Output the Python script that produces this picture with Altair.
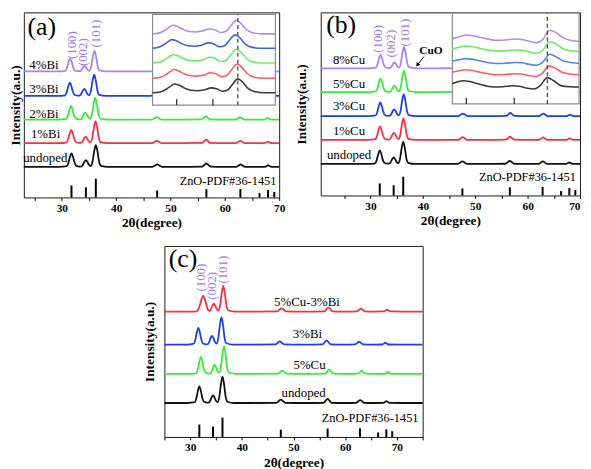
import altair as alt
import pandas as pd

FONT = "Liberation Serif"

# ---------------- shared 2-theta grid for the main patterns ----------------
TT = [19, 25, 29.5, 30.9, 31.2, 31.5, 31.77, 32.05, 32.35, 32.7, 33.3,
      33.65, 33.9, 34.15, 34.42, 34.7, 34.95, 35.3,
      35.65, 35.95, 36.25, 36.55, 36.85, 37.2, 38.5, 42,
      46.7, 47.1, 47.55, 48.0, 48.4, 52,
      55.8, 56.2, 56.6, 57.0, 57.4, 60,
      62.1, 62.5, 62.9, 63.3, 63.7, 65.5,
      67.4, 67.7, 67.95, 68.25, 68.6, 71, 76]

# ZnO reference pattern (PDF#36-1451)
STICK_T = [31.77, 34.42, 36.25, 47.54, 56.60, 62.86, 66.38, 67.96, 69.10]
STICK_H = [12.5, 10.5, 19.5, 7.3, 8.5, 8.7, 4.5, 7.7, 5.7]

# ---------------- panel (a) ----------------
A_NAMES = ["undoped", "1%Bi", "2%Bi", "3%Bi", "4%Bi"]
A_BASE = [31.7, 56.3, 80.7, 105.3, 130.7]
A_SHIFT = [0, -0.05, -0.1, -0.3, -0.25]
A_UNDOPED = [0,0,0, 0.7,4.2,10.5,14,10.5,4.2,1.0,0.3, 0.5,2.5,5.3,7,5.3,2.5,0.8, 5.6,16.2,22.5,16.2,5.6,1.1,0, 0,
             0.1,1.3,2.5,1.3,0.1, 0, 0.2,1.8,3.5,1.8,0.2, 0, 0.1,1.3,2.5,1.3,0.1, 0, 0.1,0.9,1.8,0.9,0.1, 0,0]
A_1BI = [0,0,0, 0.7,4.1,10.3,13.7,10.3,4.1,1.0,0.3, 0.5,2.3,5.0,6.7,5.0,2.3,0.8, 5.7,16.3,22.7,16.3,5.7,1.1,0, 0,
         0.1,1.3,2.5,1.3,0.1, 0, 0.2,1.8,3.6,1.8,0.2, 0, 0.1,1.3,2.4,1.3,0.1, 0, 0.1,0.9,1.7,0.9,0.1, 0,0]
A_2BI = [0,0,0, 0.7,4.3,10.7,14.3,10.7,4.3,1.0,0.3, 0.5,2.6,5.5,7.3,5.5,2.6,0.8, 5.7,16.3,22.7,16.3,5.7,1.1,0, 0,
         0.1,1.3,2.6,1.3,0.1, 0, 0.2,1.8,3.5,1.8,0.2, 0, 0.1,1.3,2.5,1.3,0.1, 0, 0.1,0.9,1.8,0.9,0.1, 0,0]
A_3BI = [0,0,0, 0.7,4.1,10.3,13.7,10.3,4.1,1.0,0.3, 0.5,2.6,5.5,7.3,5.5,2.6,0.8, 5.5,15.8,22,15.8,5.5,1.1,0, 0,
         0.1,1.2,2.4,1.2,0.1, 0, 0.2,1.7,3.4,1.7,0.2, 0, 0.1,1.2,2.4,1.2,0.1, 0, 0.1,0.9,1.7,0.9,0.1, 0,0]
A_4BI = [0,0,0, 0.7,4.0,10.0,13.3,10.0,4.0,0.9,0.3, 0.4,2.1,4.5,6,4.5,2.1,0.7, 5.3,15.3,21.3,15.3,5.3,1.1,0, 0,
         0.1,1.2,2.4,1.2,0.1, 0, 0.2,1.7,3.4,1.7,0.2, 0, 0.1,1.2,2.4,1.2,0.1, 0, 0.1,0.9,1.7,0.9,0.1, 0,0]
A_LABEL_T = [26.95, 27.0, 26.7, 26.7, 26.7]
A_LABEL_V = [41, 66, 87, 112, 137]

# inset (a)
IA_GRID = [30.0, 30.5, 31.0, 31.3, 31.6, 31.9, 32.3, 32.8, 33.3, 33.8, 34.3, 34.7,
           35.1, 35.5, 35.85, 36.25, 36.6, 37.0, 37.5, 38.2, 39.0]
IA_BASE = [13, 28, 43.7, 59, 74]
IA_SHIFT = [0, -0.05, -0.1, -0.2, -0.12]
IA_UNDOPED = [0, 0.5, 3.5, 6.5, 9, 8, 5, 2.5, 2, 3, 5, 4, 1.5, 2.8, 8.5, 14.3, 11, 4.5, 1, 0, 0]
IA_1BI = [0, 0.5, 3.5, 6.5, 9, 8, 5, 2.6, 2.2, 3.3, 5.7, 4.5, 1.6, 3, 9, 14.7, 11.3, 4.6, 1, 0, 0]
IA_2BI = [0, 0.5, 3.4, 6.3, 8.7, 7.8, 5, 2.7, 2.3, 3.5, 6, 4.7, 1.7, 3, 8.8, 14.3, 11, 4.5, 1, 0, 0]
IA_3BI = [0, 0.5, 3.5, 6.5, 9, 8, 5, 2.6, 2.2, 3.3, 5.7, 4.5, 1.6, 3, 8.7, 14, 10.8, 4.4, 1, 0, 0]
IA_4BI = [0, 0.5, 3.5, 6.5, 9, 8, 5, 2.5, 2, 3.1, 5, 4, 1.5, 2.8, 8.5, 14, 10.8, 4.4, 1, 0, 0]

# ---------------- panel (b) ----------------
B_NAMES = ["undoped", "1%Cu", "3%Cu", "5%Cu", "8%Cu"]
B_BASE = [32.7, 57.7, 82.3, 107.3, 132]
B_SHIFT = [0, 0.05, 0.1, 0.15, 0.15]
B_UNDOPED = [0,0,0, 0.7,4.2,10.5,14,10.5,4.2,1.0,0.3, 0.5,2.3,5.0,6.7,5.0,2.3,0.8, 5.8,16.6,23,16.6,5.8,1.2,0, 0,
             0.1,1.4,2.7,1.4,0.1, 0, 0.2,1.7,3.3,1.7,0.2, 0, 0.1,1.4,2.7,1.4,0.1, 0, 0.1,0.9,1.7,0.9,0.1, 0,0]
B_1CU = [0,0,0, 0.7,4.2,10.5,14,10.5,4.2,1.0,0.3, 0.5,2.6,5.5,7.3,5.5,2.6,0.8, 5.6,16.1,22.3,16.1,5.6,1.1,0, 0,
         0.1,1.4,2.8,1.4,0.1, 0, 0.2,1.7,3.4,1.7,0.2, 0, 0.1,1.3,2.6,1.3,0.1, 0, 0.1,0.9,1.7,0.9,0.1, 0,0]
B_3CU = [0,0,0, 0.7,4.3,10.7,14.3,10.7,4.3,1.0,0.3, 0.5,2.5,5.3,7,5.3,2.5,0.8, 5.7,16.3,22.7,16.3,5.7,1.1,0, 0,
         0.1,1.4,2.7,1.4,0.1, 0, 0.2,1.7,3.3,1.7,0.2, 0, 0.1,1.4,2.7,1.4,0.1, 0, 0.1,0.9,1.7,0.9,0.1, 0,0]
B_5CU = [0,0,0, 0.7,4.3,10.7,14.3,10.7,4.3,1.0,0.3, 0.5,2.3,5.0,6.7,5.0,2.3,0.8, 5.5,15.8,22,15.8,5.5,1.1,0, 0,
         0.1,1.3,2.6,1.3,0.1, 0, 0.2,1.6,3.2,1.6,0.2, 0, 0.1,1.3,2.6,1.3,0.1, 0, 0.1,0.8,1.6,0.8,0.1, 0,0]
B_8CU = [0,0,0, 0.7,4.2,10.5,14,10.5,4.2,1.0,0.3, 0.4,2.1,4.5,6,4.5,2.1,0.7, 5.6,16.1,22.3,16.1,5.6,1.1,0, 0,
         0.1,1.3,2.6,1.3,0.1, 0, 0.2,1.6,3.2,1.6,0.2, 0, 0.1,1.3,2.6,1.3,0.1, 0, 0.1,0.8,1.6,0.8,0.1, 0,0]
B_LABEL_T = [25.9, 25.9, 25.9, 25.9, 25.9]
B_LABEL_V = [41.6, 67.3, 92.3, 116, 140.6]

# inset (b)
IB_GRID = [31.0, 31.3, 31.6, 31.9, 32.3, 32.8, 33.3, 33.8, 34.3, 34.7, 35.1, 35.5,
           35.85, 36.25, 36.6, 37.0, 37.5, 38.0]
IB_SHIFT = [0, 0.1, 0.13, 0.13, 0.13]
IB_UNDOPED = [21, 23, 24, 23.5, 21.5, 19, 17.5, 17.8, 18.8, 18.3, 16.5, 15.5, 19, 27.3, 24, 19, 17.8, 17.5]
IB_1CU = [33, 34.5, 35.5, 35, 33.5, 31.5, 30.3, 30.5, 31.3, 31, 29.5, 28.5, 31.5, 39.5, 37, 32.5, 30.8, 30.5]
IB_3CU = [44.5, 46, 47, 46.5, 45, 43, 42, 42.2, 43, 42.7, 41.2, 40, 43, 51.5, 49, 44.5, 42.8, 42.2]
IB_5CU = [57, 59, 60, 59.5, 58, 56, 54.8, 55, 56, 55.6, 54, 52.5, 55.5, 64.5, 62, 57, 55, 54.5]
IB_8CU = [67.5, 70, 71.5, 71, 69.5, 67.5, 66, 66.3, 67.3, 66.8, 65, 63.5, 66.5, 76.5, 74, 68.5, 65.5, 65]

# ---------------- panel (c) ----------------
C_NAMES = ["undoped", "5%Cu", "3%Bi", "5%Cu-3%Bi"]
C_BASE = [34.3, 63.7, 93.3, 126.7]
C_SHIFT = [0, 0.3, -0.2, 0.15]
C_UNDOPED = [0,0,0, 0.8,5.0,12.5,16.7,12.5,5.0,1.2,0.3, 0.5,2.7,5.8,7.7,5.8,2.7,0.9, 6.7,19.2,26.7,19.2,6.7,1.3,0, 0,
             0.2,1.7,3.3,1.7,0.2, 0, 0.2,2.2,4.3,2.2,0.2, 0, 0.2,1.5,3,1.5,0.2, 0, 0.1,1,2,1,0.1, 0,0]
C_5CU = [0,0,0, 0.9,5.2,13.0,17.3,13.0,5.2,1.2,0.3, 0.6,3.2,6.8,9,6.8,3.2,1.0, 7.0,20.2,28,20.2,7.0,1.4,0, 0,
         0.2,1.7,3.3,1.7,0.2, 0, 0.2,2.2,4.3,2.2,0.2, 0, 0.2,1.5,3,1.5,0.2, 0, 0.1,1,2,1,0.1, 0,0]
C_3BI = [0,0,0, 0.9,5.1,12.8,17,12.8,5.1,1.2,0.3, 0.6,3.0,6.5,8.7,6.5,3.0,1.0, 6.9,19.9,27.7,19.9,6.9,1.4,0, 0,
         0.2,1.7,3.3,1.7,0.2, 0, 0.2,2.2,4.3,2.2,0.2, 0, 0.2,1.5,3,1.5,0.2, 0, 0.1,1,2,1,0.1, 0,0]
C_5CU3BI = [0,0,0, 0,0.8,3.2,7.2,12.8,16,12,1.6, 0.6,2.8,6.0,8,6.0,2.8,0.9, 6.5,18.7,26,18.7,6.5,1.3,0, 0,
            0.2,1.7,3.3,1.7,0.2, 0, 0.2,2.2,4.3,2.2,0.2, 0, 0.2,1.5,3,1.5,0.2, 0, 0.1,1,2,1,0.1, 0,0]
C_LABEL_T = [51.95, 53.1, 52.7, 52.6]
C_LABEL_V = [44.7, 72.7, 103.7, 136.7]

PEAK_NAMES = ["(100)", "(002)", "(101)"]
A_PEAK_T, A_PEAK_V = [31.95, 33.9, 36.3], [158, 150.7, 170]
B_PEAK_T, B_PEAK_V = [31.4, 34.0, 36.5], [162.5, 157.5, 169]
C_PEAK_T, C_PEAK_V = [32.1, 34.3, 36.45], [161, 152.7, 169]

# ---------------- styles / layout ----------------
MAIN_COLORS = {"k": "#111111", "r": "#ff2d3f", "g": "#33ee33", "b": "#1a3cff", "p": "#a384f5"}
INSET_COLORS = {"k": "#3a3a3a", "r": "#ff5a66", "g": "#66ee66", "b": "#3a5fe0", "p": "#a98df2"}
PEAK_COLOR = "#9b7cf0"

for lst in [A_UNDOPED, A_1BI, A_2BI, A_3BI, A_4BI, B_UNDOPED, B_1CU, B_3CU, B_5CU, B_8CU,
            C_UNDOPED, C_5CU, C_3BI, C_5CU3BI]:
    assert len(lst) == len(TT)


def build_lines(grid, names, bases, shifts, profiles, colors):
    rows = []
    n = len(grid)
    for name, base, sh, prof, col in zip(names, bases, shifts, profiles, colors):
        for i, (t, h) in enumerate(zip(grid, prof)):
            tt = t if i in (0, n - 1) else t + sh
            rows.append({"series": name, "t": tt, "v": base + h, "c": col})
    return pd.DataFrame(rows)


def sx(dom):
    return alt.Scale(domain=dom, nice=False, zero=False)


def x_axis(dom, flush):
    vals = [v for v in range(25, 80, 5) if dom[0] <= v <= dom[1]]
    return alt.Axis(title="2θ(degree)", values=vals,
                    labelExpr="datum.value % 10 === 0 ? datum.label : ''",
                    labelFlush=flush, tickSize=3, tickColor="black", domain=False,
                    grid=False, labelFont=FONT, labelFontSize=11.5, labelFontWeight="bold",
                    labelColor="black", labelPadding=2, titleFont=FONT, titleFontSize=13.5,
                    titleFontWeight="bold", titleColor="black", titlePadding=2)


def y_axis(pad):
    return alt.Axis(title="Intensity(a.u.)", labels=False, ticks=False, domain=False,
                    grid=False, titleFont=FONT, titleFontSize=13.5, titleFontWeight="bold",
                    titleColor="black", titlePadding=pad)


def main_layers(lines_df, xdom, ydom, ypad, flush, lab_names, lab_t, lab_v,
                peak_t, peak_v, letter, letter_t, letter_v, pdf_t, pdf_v):
    xs, ys = sx(xdom), sx(ydom)
    xa, ya = x_axis(xdom, flush), y_axis(ypad)

    def X(f):
        return alt.X(f, scale=xs, axis=xa)

    def Y(f):
        return alt.Y(f, scale=ys, axis=ya)

    lines = alt.Chart(lines_df).mark_line(strokeWidth=1.8, interpolate="monotone", clip=True).encode(
        x=X("t:Q"), y=Y("v:Q"), color=alt.Color("c:N", scale=None), detail="series:N")
    sticks_df = pd.DataFrame({"t": STICK_T, "v0": [0] * len(STICK_T), "h": STICK_H})
    sticks = alt.Chart(sticks_df).mark_rule(strokeWidth=2, color="black").encode(
        x=X("t:Q"), y=Y("v0:Q"), y2="h:Q")
    lab_df = pd.DataFrame({"t": lab_t, "v": lab_v, "label": lab_names})
    labs = alt.Chart(lab_df).mark_text(font=FONT, fontSize=13, color="black",
                                       align="center", baseline="middle").encode(
        x=X("t:Q"), y=Y("v:Q"), text="label:N")
    pk_df = pd.DataFrame({"t": peak_t, "v": peak_v, "label": PEAK_NAMES})
    pks = alt.Chart(pk_df).mark_text(font=FONT, fontSize=13, color=PEAK_COLOR, angle=270,
                                     align="center", baseline="middle").encode(
        x=X("t:Q"), y=Y("v:Q"), text="label:N")
    let_df = pd.DataFrame({"t": [letter_t], "v": [letter_v], "label": [letter]})
    let = alt.Chart(let_df).mark_text(font=FONT, fontSize=26, color="black",
                                      align="center", baseline="middle").encode(
        x=X("t:Q"), y=Y("v:Q"), text="label:N")
    pdf_df = pd.DataFrame({"t": [pdf_t], "v": [pdf_v], "label": ["ZnO-PDF#36-1451"]})
    pdf = alt.Chart(pdf_df).mark_text(font=FONT, fontSize=12.5, color="black",
                                      align="right", baseline="middle").encode(
        x=X("t:Q"), y=Y("v:Q"), text="label:N")
    return [lines, sticks, labs, pks, let, pdf], X, Y


def inset_layers(lines_df, idom, iheight, box, xdom, ydom, W, H, tick_t, dash_t):
    # box = (t0, t1, v0, v1) in main-panel data units
    def px(t):
        return (t - xdom[0]) / (xdom[1] - xdom[0]) * W

    def py(v):
        return H - (v - ydom[0]) / (ydom[1] - ydom[0]) * H

    ixs = alt.Scale(domain=idom, range=[px(box[0]), px(box[1])], nice=False, zero=False)
    iys = alt.Scale(domain=[0, iheight], range=[py(box[2]), py(box[3])], nice=False, zero=False)
    rect_df = pd.DataFrame({"a": [idom[0]], "b": [idom[1]], "lo": [0], "hi": [iheight]})
    rect = alt.Chart(rect_df).mark_rect(fill="white", stroke="#8c8c8c", strokeWidth=1.2).encode(
        x=alt.X("a:Q", scale=ixs, axis=None), x2="b:Q",
        y=alt.Y("lo:Q", scale=iys, axis=None), y2="hi:Q")
    ln = alt.Chart(lines_df).mark_line(strokeWidth=1.6, interpolate="monotone").encode(
        x=alt.X("t:Q", scale=ixs, axis=None), y=alt.Y("v:Q", scale=iys, axis=None),
        color=alt.Color("c:N", scale=None), detail="series:N")
    tk_df = pd.DataFrame({"t": tick_t, "lo": [0] * len(tick_t), "hi": [6.5] * len(tick_t)})
    tk = alt.Chart(tk_df).mark_rule(strokeWidth=1.3, color="#333333").encode(
        x=alt.X("t:Q", scale=ixs, axis=None), y=alt.Y("lo:Q", scale=iys, axis=None), y2="hi:Q")
    ds_df = pd.DataFrame({"t": [dash_t], "lo": [0], "hi": [iheight]})
    ds = alt.Chart(ds_df).mark_rule(strokeWidth=1.3, color="#4a4a4a", strokeDash=[4, 3]).encode(
        x=alt.X("t:Q", scale=ixs, axis=None), y=alt.Y("lo:Q", scale=iys, axis=None), y2="hi:Q")
    return [rect, ln, tk, ds]


MC = MAIN_COLORS
IC = INSET_COLORS

# ---- panel (a)
WA, HA = 258, 187
XA, YA = [23, 70], [0, 192]
a_df = build_lines(TT, A_NAMES, A_BASE, A_SHIFT, [A_UNDOPED, A_1BI, A_2BI, A_3BI, A_4BI],
                   [MC["k"], MC["r"], MC["g"], MC["b"], MC["p"]])
ia_df = build_lines(IA_GRID, A_NAMES, IA_BASE, IA_SHIFT, [IA_UNDOPED, IA_1BI, IA_2BI, IA_3BI, IA_4BI],
                    [IC["k"], IC["r"], IC["g"], IC["b"], IC["p"]])
ma, _, _ = main_layers(a_df, XA, YA, 1, False, A_NAMES, A_LABEL_T, A_LABEL_V,
                       A_PEAK_T, A_PEAK_V, "(a)", 26.3, 176.5, 69.5, 17)
ina = inset_layers(ia_df, [30, 39], 94.3, (46.7, 69.3, 95.7, 190), XA, YA, WA, HA, [31.77, 34.42], 36.25)
panel_a = alt.layer(alt.layer(*ma), alt.layer(*ina)).resolve_scale(
    x="independent", y="independent").properties(width=WA, height=HA)

# ---- panel (b)
WB, HB = 262, 185
XB, YB = [20.5, 70], [0, 190]
b_df = build_lines(TT, B_NAMES, B_BASE, B_SHIFT, [B_UNDOPED, B_1CU, B_3CU, B_5CU, B_8CU],
                   [MC["k"], MC["r"], MC["b"], MC["g"], MC["p"]])
ib_df = build_lines(IB_GRID, B_NAMES, [0] * 5, IB_SHIFT, [IB_UNDOPED, IB_1CU, IB_3CU, IB_5CU, IB_8CU],
                    [IC["k"], IC["r"], "#5585e6", IC["g"], IC["p"]])
mb, XBf, YBf = main_layers(b_df, XB, YB, 12, True, B_NAMES, B_LABEL_T, B_LABEL_V,
                           B_PEAK_T, B_PEAK_V, "(b)", 24.4, 177.3, 69.2, 19.3)
cuo_txt = alt.Chart(pd.DataFrame({"t": [41.55], "v": [150], "label": ["CuO"]})).mark_text(
    font=FONT, fontSize=11.5, fontWeight="bold", color="black", align="center", baseline="middle").encode(
    x=XBf("t:Q"), y=YBf("v:Q"), text="label:N")
cuo_arrow = alt.Chart(pd.DataFrame({"t": [40.2], "v": [144], "t2": [38.95], "v2": [135.5]})).mark_rule(
    strokeWidth=1, color="black").encode(
    x=XBf("t:Q"), y=YBf("v:Q"), x2="t2:Q", y2="v2:Q")
cuo_head = alt.Chart(pd.DataFrame({"t": [38.95], "v": [135.5]})).mark_point(
    shape="triangle-up", filled=True, size=22, angle=218, color="black", opacity=1).encode(
    x=XBf("t:Q"), y=YBf("v:Q"))
inb = inset_layers(ib_df, [31, 38], 94.3, (45.63, 69.81, 95, 189.3), XB, YB, WB, HB, [31.77, 34.42], 36.25)
panel_b = alt.layer(alt.layer(*mb, cuo_txt, cuo_arrow, cuo_head), alt.layer(*inb)).resolve_scale(
    x="independent", y="independent").properties(width=WB, height=HB)

# ---- panel (c)
WC, HC = 261, 193
XC, YC = [25, 75], [0, 193]
c_df = build_lines(TT, C_NAMES, C_BASE, C_SHIFT, [C_UNDOPED, C_5CU, C_3BI, C_5CU3BI],
                   [MC["k"], MC["g"], MC["b"], MC["r"]])
mc, _, _ = main_layers(c_df, XC, YC, 8, False, C_NAMES, C_LABEL_T, C_LABEL_V,
                       C_PEAK_T, C_PEAK_V, "(c)", 28.6, 179.5, 74.2, 19.3)
panel_c = alt.layer(*mc).properties(width=WC, height=HC)

spacer = alt.Chart(pd.DataFrame({"z": [0]})).mark_point(opacity=0).encode(
    x=alt.X("z:Q", axis=None), y=alt.Y("z:Q", axis=None)).properties(
    width=119, height=10, view=alt.ViewBackground(strokeOpacity=0))

top = alt.hconcat(panel_a, panel_b, spacing=8)
bottom = alt.hconcat(spacer, panel_c, spacing=0)
chart = alt.vconcat(top, bottom, spacing=15).properties(
    padding=0, background="white").configure_view(
    stroke="#1a1a1a", strokeWidth=1).configure_axis(
    labelFont=FONT, titleFont=FONT, labelFontWeight="bold", titleFontWeight="bold").configure_text(font=FONT)

chart.save("out.html", embed_options={"renderer": "svg", "actions": False})
